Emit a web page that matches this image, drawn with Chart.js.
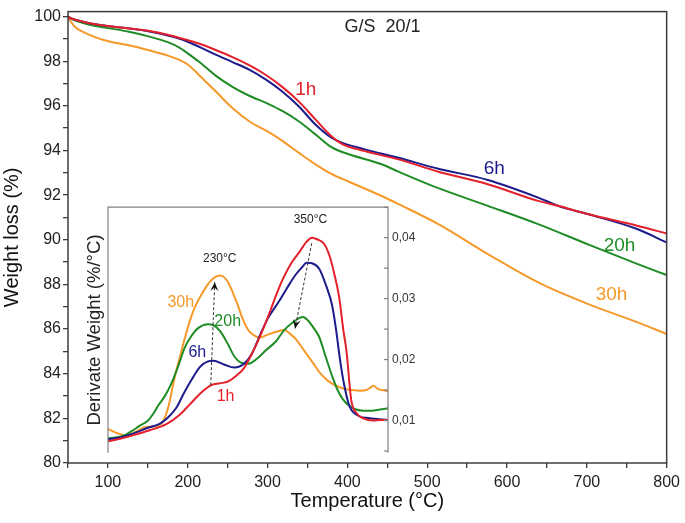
<!DOCTYPE html>
<html><head><meta charset="utf-8">
<script src="https://cdn.jsdelivr.net/npm/chart.js@4.4.0/dist/chart.umd.min.js"></script>
<style>
html,body{margin:0;padding:0;background:#fff;}
#wrap{position:relative;width:685px;height:523px;overflow:hidden;}
#main{position:absolute;left:0;top:0;}
#inset{position:absolute;left:70px;top:196px;}
</style></head><body>
<div id="wrap"><canvas id="main" width="685" height="523"></canvas><canvas id="inset" width="360" height="268"></canvas></div>
<script>
// ---------- data ----------
const seriesNames = ['1h', '6h', '20h', '30h'];

// Main TGA curves (temperature °C, weight %)
const tgaTemp1h = [50,55,65,77,102,130,152,175,194,215,235,256,277,298,318,339,360,380,393,422,464,514,576,639,664,701,763,800];
const tgaW1h    = [100,99.9,99.8,99.7,99.56,99.45,99.35,99.18,99.0,98.78,98.5,98.18,97.82,97.38,96.86,96.2,95.39,94.64,94.3,93.97,93.6,93.05,92.49,91.74,91.52,91.15,90.63,90.28];
const tgaTemp6h = [50,55,65,77,102,130,152,175,194,215,235,256,277,298,318,339,360,380,393,422,464,514,576,639,664,701,763,800];
const tgaW6h    = [100,99.9,99.8,99.7,99.56,99.45,99.33,99.15,98.96,98.63,98.29,97.96,97.62,97.17,96.65,95.98,95.16,94.57,94.35,94.05,93.67,93.18,92.68,91.89,91.52,91.15,90.48,89.88];
const tgaTemp20h = [50,55,65,77,100,125,152,175,190,200,215,235,256,277,300,319,339,360,380,402,443,464,514,576,639,701,763,800];
const tgaW20h    = [100,99.88,99.75,99.63,99.48,99.33,99.1,98.85,98.6,98.35,97.95,97.35,96.85,96.45,96.1,95.76,95.31,94.72,94.15,93.83,93.38,93.05,92.31,91.52,90.7,89.8,88.92,88.42];
const tgaTemp30h = [50,52,56,60,65,77,90,102,125,150,175,190,200,215,235,256,277,300,319,339,360,380,402,443,464,514,576,639,701,763,800];
const tgaW30h    = [100,99.85,99.65,99.5,99.38,99.18,99.0,98.88,98.72,98.5,98.25,98.05,97.85,97.35,96.65,95.9,95.31,94.85,94.42,93.9,93.38,92.95,92.6,91.96,91.6,90.7,89.36,88.09,87.13,86.31,85.78];

// Inset DTG curves (temperature °C, derivative weight %/°C)
const dtgTemp1h = [100,115,132,152,173,190,202,215,229,240,250,260,270,280,290,300,312,320,330,340,348,355,362,370,377,383,389,394,398,404,410,420,431,440,450];
const dtgV1h    = [0.0066,0.0070,0.0076,0.0084,0.0094,0.0110,0.0126,0.0144,0.0158,0.0161,0.0164,0.0173,0.0186,0.0210,0.0238,0.0270,0.0312,0.0336,0.0360,0.0378,0.0393,0.0400,0.0397,0.0390,0.0370,0.0340,0.0302,0.0250,0.0215,0.0134,0.0113,0.0103,0.0100,0.0101,0.0101];
const dtgTemp6h = [100,115,130,150,165,175,185,195,205,215,225,232,245,258,270,280,290,300,314,325,335,343,348,355,364,373,380,385,390,395,402,414,425,440,450];
const dtgV6h    = [0.0069,0.0072,0.0078,0.0088,0.0095,0.0105,0.0120,0.0145,0.0168,0.0188,0.0197,0.0198,0.0192,0.0187,0.0193,0.0210,0.0240,0.0268,0.0296,0.0320,0.0340,0.0352,0.0359,0.0358,0.0349,0.0320,0.0290,0.0250,0.0200,0.0160,0.0123,0.0107,0.0104,0.0102,0.0101];
const dtgTemp20h = [100,110,121,130,138,150,157,163,171,179,188,196,205,213,225,232,240,250,258,266,275,285,298,310,320,330,339,344,350,358,364,372,381,387,393,400,410,420,430,440,450];
const dtgV20h    = [0.0071,0.0072,0.0076,0.0083,0.0090,0.0100,0.0112,0.0125,0.0140,0.0160,0.0190,0.0220,0.0240,0.0252,0.0258,0.0256,0.0247,0.0225,0.0205,0.0195,0.0193,0.0200,0.0216,0.0230,0.0248,0.0260,0.0268,0.0270,0.0264,0.0250,0.0237,0.0205,0.0170,0.0150,0.0136,0.0126,0.0118,0.0116,0.0116,0.0118,0.0120];
const dtgTemp30h = [100,105,112,121,128,134,146,155,163,168,172,176,180,185,190,197,204,210,217,223,229,235,241,246,250,256,262,268,275,282,290,298,306,314,320,327,335,345,356,365,375,385,395,405,415,423,428,432,437,442,447,450];
const dtgV30h    = [0.0086,0.0083,0.0079,0.0076,0.0077,0.0081,0.0089,0.0090,0.0092,0.0097,0.0108,0.0125,0.0150,0.0180,0.0205,0.0240,0.0270,0.0290,0.0307,0.0320,0.0330,0.0336,0.0338,0.0334,0.0327,0.0310,0.0290,0.0268,0.0249,0.0240,0.0236,0.0240,0.0244,0.0247,0.0249,0.0243,0.0233,0.0215,0.0195,0.0178,0.0165,0.0157,0.0152,0.0150,0.0149,0.0150,0.0154,0.0157,0.0152,0.0150,0.0149,0.0147];

// Peak annotations (inset): text and arrow endpoints in data units
const peakLabels = ['230°C', '350°C'];
const peakArrowLow  = [[228.4, 0.0158], [354.7, 0.0391]];
const peakArrowHigh = [[233.4, 0.0327], [333.8, 0.0251]];

// ---------- styles ----------
const FONT = "'Liberation Sans', Arial, Helvetica, sans-serif";
const COLORS = ['#e4212b', '#1b1b8c', '#1f8c26', '#f5992a'];

function pts(xs, ys) { return xs.map((x, i) => ({x: x, y: ys[i]})); }
function ds(xs, ys, c) {
  return {data: pts(xs, ys), borderColor: c, borderWidth: 2, pointRadius: 0,
          tension: 0.4, cubicInterpolationMode: 'monotone', fill: false};
}

// ---------- main chart ----------
const mainText = [
  {text: seriesNames[0], x: 348, y: 96.74, color: COLORS[0], size: 19},
  {text: seriesNames[1], x: 584, y: 93.19, color: COLORS[1], size: 19},
  {text: seriesNames[2], x: 741, y: 89.73, color: COLORS[2], size: 19},
  {text: seriesNames[3], x: 731, y: 87.54, color: COLORS[3], size: 19},
  {text: 'G/S  20/1', x: 444, y: 99.51, color: '#222', size: 18}
];

const mainPlugin = {
  id: 'mainDeco',
  afterDraw(chart) {
    const {ctx, chartArea: a, scales} = chart;
    ctx.save();
    ctx.strokeStyle = '#3c3c3c';
    ctx.lineWidth = 1.5;
    ctx.strokeRect(a.left, a.top, a.right - a.left, a.bottom - a.top);
    ctx.textAlign = 'center';
    ctx.textBaseline = 'middle';
    mainText.forEach(t => {
      ctx.font = t.size + 'px ' + FONT;
      ctx.fillStyle = t.color;
      ctx.fillText(t.text, scales.x.getPixelForValue(t.x), scales.y.getPixelForValue(t.y));
    });
    ctx.restore();
  }
};

new Chart(document.getElementById('main'), {
  type: 'line',
  data: {datasets: [
    ds(tgaTemp1h, tgaW1h, COLORS[0]),
    ds(tgaTemp6h, tgaW6h, COLORS[1]),
    ds(tgaTemp20h, tgaW20h, COLORS[2]),
    ds(tgaTemp30h, tgaW30h, COLORS[3])
  ]},
  options: {
    responsive: false, animation: false, events: [],
    layout: {padding: {top: 10, right: 16, left: 0, bottom: 0}},
    plugins: {legend: {display: false}, tooltip: {enabled: false}},
    scales: {
      x: {
        type: 'linear', min: 50, max: 800,
        ticks: {stepSize: 50, autoSkip: false, maxRotation: 0, includeBounds: false, padding: 5,
                color: '#222', font: {family: FONT, size: 16},
                callback: v => (v % 100 === 0 ? String(v) : '')},
        grid: {drawOnChartArea: false, drawTicks: true, tickLength: 5, color: '#3c3c3c', lineWidth: 1.3},
        border: {display: false},
        title: {display: true, text: 'Temperature (°C)', color: '#111', font: {family: FONT, size: 20},
                padding: {top: 0, bottom: 10}},
        afterFit: s => { s.height = 60; }
      },
      y: {
        type: 'linear', min: 80, max: 100.22,
        ticks: {stepSize: 1, autoSkip: false, includeBounds: false, padding: 2,
                color: '#222', font: {family: FONT, size: 16},
                callback: v => (Math.abs(v - Math.round(v)) < 1e-6 && Math.round(v) % 2 === 0 ? String(Math.round(v)) : '')},
        grid: {drawOnChartArea: false, drawTicks: true, tickLength: 5, color: '#3c3c3c', lineWidth: 1.3},
        border: {display: false},
        title: {display: true, text: 'Weight loss (%)', color: '#111', font: {family: FONT, size: 20},
                padding: {top: 0, bottom: 0}},
        afterFit: s => { s.width = 68; }
      }
    }
  },
  plugins: [mainPlugin]
});

// ---------- inset chart ----------
const insetText = [
  {text: seriesNames[3], x: 191, y: 0.02937, color: COLORS[3], size: 16},
  {text: seriesNames[2], x: 249.6, y: 0.02622, color: COLORS[2], size: 16},
  {text: seriesNames[1], x: 211.6, y: 0.02118, color: COLORS[1], size: 16},
  {text: seriesNames[0], x: 247, y: 0.01394, color: COLORS[0], size: 16},
  {text: peakLabels[0], x: 239.7, y: 0.03661, color: '#222', size: 12},
  {text: peakLabels[1], x: 353, y: 0.04291, color: '#222', size: 12}
];

const insetPlugin = {
  id: 'insetDeco',
  afterDraw(chart) {
    const {ctx, chartArea: a, scales} = chart;
    const sx = scales.x, sy = scales.y;
    ctx.save();
    ctx.strokeStyle = '#808080';
    ctx.lineWidth = 1.2;
    ctx.beginPath();
    ctx.moveTo(a.left, a.bottom);
    ctx.lineTo(a.left, a.top);
    ctx.lineTo(a.right, a.top);
    ctx.lineTo(a.right, a.bottom);
    ctx.stroke();
    sy.ticks.forEach(t => {
      const y = sy.getPixelForValue(t.value);
      ctx.beginPath();
      ctx.moveTo(a.right - 4, y);
      ctx.lineTo(a.right, y);
      ctx.stroke();
    });
    ctx.strokeStyle = '#333';
    ctx.fillStyle = '#111';
    ctx.lineWidth = 1;
    for (let i = 0; i < peakArrowLow.length; i++) {
      const p0 = peakArrowLow[i], p1 = peakArrowHigh[i];
      const x0 = sx.getPixelForValue(p0[0]), y0 = sy.getPixelForValue(p0[1]);
      const x1 = sx.getPixelForValue(p1[0]), y1 = sy.getPixelForValue(p1[1]);
      ctx.setLineDash([3, 2]);
      ctx.beginPath(); ctx.moveTo(x0, y0); ctx.lineTo(x1, y1); ctx.stroke();
      ctx.setLineDash([]);
      const ang = Math.atan2(y1 - y0, x1 - x0);
      const L = 9, W = 4;
      ctx.beginPath();
      ctx.moveTo(x1, y1);
      ctx.lineTo(x1 - L * Math.cos(ang) + W * Math.sin(ang), y1 - L * Math.sin(ang) - W * Math.cos(ang));
      ctx.lineTo(x1 - 0.6 * L * Math.cos(ang), y1 - 0.6 * L * Math.sin(ang));
      ctx.lineTo(x1 - L * Math.cos(ang) - W * Math.sin(ang), y1 - L * Math.sin(ang) + W * Math.cos(ang));
      ctx.closePath();
      ctx.fill();
    }
    ctx.textAlign = 'center';
    ctx.textBaseline = 'middle';
    insetText.forEach(t => {
      ctx.font = t.size + 'px ' + FONT;
      ctx.fillStyle = t.color;
      ctx.fillText(t.text, sx.getPixelForValue(t.x), sy.getPixelForValue(t.y));
    });
    ctx.restore();
  }
};

new Chart(document.getElementById('inset'), {
  type: 'line',
  data: {datasets: [
    ds(dtgTemp1h, dtgV1h, COLORS[0]),
    ds(dtgTemp6h, dtgV6h, COLORS[1]),
    ds(dtgTemp20h, dtgV20h, COLORS[2]),
    ds(dtgTemp30h, dtgV30h, COLORS[3])
  ]},
  options: {
    responsive: false, animation: false, events: [],
    layout: {padding: {top: 10, bottom: 1, left: 0, right: 0}},
    plugins: {legend: {display: false}, tooltip: {enabled: false}},
    scales: {
      x: {type: 'linear', min: 100, max: 450, display: false},
      y: {
        type: 'linear', position: 'right', min: 0.0047, max: 0.045,
        ticks: {stepSize: 0.005, autoSkip: false, includeBounds: false, padding: 4,
                color: '#333', font: {family: FONT, size: 12},
                callback: v => (Math.abs(v * 100 - Math.round(v * 100)) < 1e-6 ? v.toFixed(2).replace('.', ',') : '')},
        grid: {drawOnChartArea: false, drawTicks: false},
        border: {display: false},
        afterFit: s => { s.width = 42; }
      },
      yL: {
        type: 'linear', position: 'left', min: 0.0047, max: 0.045,
        ticks: {display: false},
        grid: {display: false, drawTicks: false},
        border: {display: false},
        title: {display: true, text: 'Derivate Weight (%/°C)', color: '#222', font: {family: FONT, size: 18.5},
                padding: {top: 14, bottom: 0}},
        afterFit: s => { s.width = 38; }
      }
    }
  },
  plugins: [insetPlugin]
});
</script>
</body></html>
